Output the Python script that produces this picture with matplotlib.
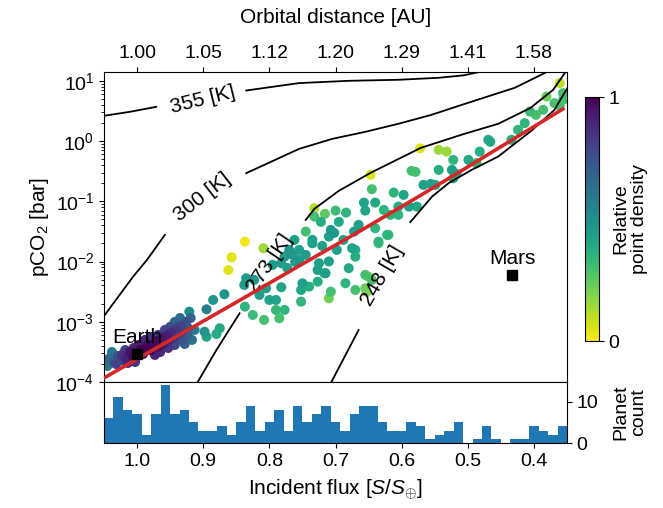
import numpy as np
import matplotlib
matplotlib.use("Agg")
import matplotlib.pyplot as plt

plt.rcParams['font.family'] = ['Liberation Sans', 'DejaVu Sans']
plt.rcParams['mathtext.fontset'] = 'custom'
plt.rcParams['mathtext.rm'] = 'Liberation Sans'
plt.rcParams['mathtext.it'] = 'Liberation Sans:italic'
plt.rcParams['mathtext.bf'] = 'Liberation Sans:bold'

# ---------------- data ----------------
flux_ticks = [1.0, 0.9, 0.8, 0.7, 0.6, 0.5, 0.4]
flux_tick_labels = ['1.0', '0.9', '0.8', '0.7', '0.6', '0.5', '0.4']
orbital_tick_labels = ['1.00', '1.05', '1.12', '1.20', '1.29', '1.41', '1.58']

planet_flux = [
    1.047, 1.041, 1.036, 1.045, 1.029, 1.032, 1.023, 1.017, 1.011, 1.006,
    1.014, 0.995, 0.991, 0.986, 0.980, 0.983, 0.976, 0.971, 0.968, 0.964,
    0.961, 0.956, 0.953, 0.949, 0.946, 0.941, 0.938, 0.934, 0.931, 0.926,
    0.923, 0.919, 0.968, 0.958, 0.950, 0.943, 0.935, 0.988, 0.980, 0.998,
    1.005, 1.018, 0.965, 0.973, 0.953, 0.943, 0.932, 0.923, 0.913, 0.917,
    0.928, 1.026, 1.003, 1.038,
    0.895, 0.921, 0.898, 0.895, 0.880, 0.875, 0.885, 0.868, 0.837, 0.857,
    0.862, 0.809, 0.835, 0.823, 0.777, 0.765, 0.755, 0.782, 0.795, 0.815,
    0.805, 0.800, 0.790, 0.782, 0.752, 0.752, 0.740, 0.727, 0.837, 0.825,
    0.808, 0.785, 0.790, 0.777, 0.707, 0.710, 0.715, 0.725, 0.735, 0.720,
    0.710, 0.675, 0.670, 0.680, 0.655, 0.645, 0.685, 0.670, 0.655, 0.620,
    0.635, 0.750, 0.745, 0.727, 0.717,
    0.647, 0.645, 0.612, 0.657, 0.640, 0.655, 0.732, 0.732, 0.716, 0.700,
    0.684, 0.745, 0.707, 0.702, 0.735, 0.665, 0.672, 0.640, 0.622, 0.605,
    0.589, 0.577, 0.605, 0.635, 0.670,
    0.572, 0.544, 0.532, 0.522, 0.524, 0.517, 0.522, 0.585, 0.579, 0.567,
    0.556, 0.549,
    0.487, 0.482, 0.469, 0.466, 0.434, 0.414, 0.406, 0.397, 0.381, 0.369,
    0.361, 0.361, 0.356, 0.356,
    0.770, 0.761, 0.773, 0.838, 0.710, 0.650, 0.653,
    0.722, 0.695, 0.688, 0.698, 0.762, 0.755, 0.617, 0.627, 0.597, 0.544,
    0.499, 0.424, 0.386,
]
planet_log10_pco2 = [
    -3.635, -3.601, -3.668, -3.734, -3.568, -3.701, -3.551, -3.618, -3.502, -3.585,
    -3.684, -3.469, -3.535, -3.435, -3.469, -3.369, -3.386, -3.319, -3.419, -3.286,
    -3.369, -3.236, -3.319, -3.186, -3.269, -3.136, -3.219, -3.070, -3.153, -3.003,
    -3.103, -2.937, -3.219, -3.136, -3.086, -3.003, -2.937, -3.302, -3.252, -3.386,
    -3.435, -3.469, -3.502, -3.551, -3.435, -3.386, -3.302, -3.236, -3.136, -3.302,
    -3.369, -3.651, -3.668, -3.502,
    -2.793, -2.832, -3.165, -3.248, -3.203, -3.108, -2.638, -2.543, -1.670, -1.929,
    -2.140, -1.779, -2.278, -2.306, -1.919, -1.890, -1.973, -2.028, -2.056, -2.555,
    -2.444, -2.638, -2.638, -2.427, -2.472, -2.666, -2.417, -2.334, -2.749, -2.887,
    -2.970, -2.942, -2.804, -2.804, -2.500, -2.610, -2.194, -2.028, -1.697, -1.741,
    -1.587, -1.779, -1.919, -2.111, -2.222, -2.306, -2.361, -2.472, -2.444, -1.558,
    -1.697, -2.361, -1.890, -2.140, -2.194,
    -0.561, -0.799, -0.855, -1.022, -1.022, -1.155, -1.115, -1.254, -1.209, -1.155,
    -1.188, -1.503, -1.475, -1.525, -1.641, -1.392, -1.503, -1.447, -1.558, -1.088,
    -1.088, -1.088, -1.226, -1.670, -1.807,
    -0.121, -0.146, -0.175, -0.314, -0.479, -0.545, -0.617, -0.495, -0.512, -0.728,
    -0.711, -0.728,
    -0.367, -0.175, 0.020, -0.013, 0.020, 0.297, 0.490, 0.435, 0.739, 0.629,
    0.585, 0.962, 0.796, 0.685,
    -1.807, -2.007, -2.106, -2.389, -1.998, -2.256, -2.505,
    -1.342, -1.342, -1.641, -1.807, -1.641, -1.807, -1.226, -1.143, -0.894, -0.479,
    -0.313, 0.186, 0.518,
]
planet_density = [
    0.60, 0.65, 0.70, 0.60, 0.75, 0.80, 0.85, 0.90, 0.95, 0.97,
    0.88, 1.00, 0.98, 0.99, 1.00, 0.95, 0.97, 0.98, 0.96, 0.95,
    0.93, 0.92, 0.90, 0.88, 0.86, 0.84, 0.82, 0.80, 0.80, 0.75,
    0.72, 0.68, 0.85, 0.80, 0.78, 0.70, 0.65, 0.90, 0.85, 0.92,
    0.90, 0.80, 0.88, 0.90, 0.85, 0.80, 0.75, 0.70, 0.60, 0.62,
    0.68, 0.78, 0.85, 0.60,
    0.58, 0.52, 0.48, 0.42, 0.38, 0.40, 0.48, 0.48, 0.02, 0.05,
    0.05, 0.15, 0.45, 0.47, 0.47, 0.47, 0.45, 0.44, 0.45, 0.44,
    0.44, 0.42, 0.42, 0.42, 0.40, 0.35, 0.38, 0.38, 0.35, 0.32,
    0.30, 0.30, 0.33, 0.35, 0.30, 0.22, 0.44, 0.44, 0.44, 0.44,
    0.44, 0.42, 0.38, 0.40, 0.30, 0.28, 0.35, 0.30, 0.22, 0.32,
    0.30, 0.44, 0.44, 0.44, 0.38,
    0.05, 0.30, 0.35, 0.42, 0.40, 0.42, 0.12, 0.30, 0.25, 0.32,
    0.35, 0.30, 0.47, 0.47, 0.44, 0.44, 0.44, 0.35, 0.35, 0.38,
    0.44, 0.40, 0.35, 0.35, 0.38,
    0.05, 0.15, 0.15, 0.35, 0.44, 0.44, 0.38, 0.30, 0.30, 0.44,
    0.44, 0.40,
    0.35, 0.38, 0.40, 0.40, 0.38, 0.35, 0.32, 0.30, 0.22, 0.30,
    0.30, 0.10, 0.30, 0.30,
    0.47, 0.47, 0.44, 0.44, 0.44, 0.20, 0.18,
    0.38, 0.40, 0.42, 0.44, 0.44, 0.44, 0.35, 0.35, 0.42, 0.38,
    0.40, 0.35, 0.30,
]

# histogram of planets per flux bin (49 bins from 1.05 down to 0.35)
hist_counts = [6, 11, 8, 7, 2, 7, 14, 7, 8, 5,
               3, 3, 4, 2, 5, 9, 3, 5, 8, 3,
               9, 5, 7, 9, 5, 3, 7, 9, 9, 5,
               3, 3, 5, 4, 1, 2, 3, 5, 0, 1,
               4, 1, 0, 1, 1, 4, 3, 2, 4]

earth_flux, earth_pco2 = 1.0, 2.9e-4
mars_flux, mars_pco2 = 0.433, 6.0e-3

fit_flux = [1.051, 0.855, 0.755, 0.660, 0.574, 0.505, 0.354]
fit_log10_pco2 = [-3.939, -2.708, -2.073, -1.475, -0.919, -0.462, 0.547]

# temperature contours: list of segments (flux, log10 pCO2) per level
contour_355_segments = [
    ([1.060, 1.050, 1.011, 0.971], [0.405, 0.419, 0.485, 0.568]),
    ([0.835, 0.755, 0.680, 0.605, 0.544, 0.506, 0.481, 0.470],
     [0.839, 0.962, 1.000, 1.017, 1.050, 1.091, 1.150, 1.190]),
]
contour_300_segments = [
    ([1.060, 1.051, 1.006, 0.985, 0.958], [-3.05, -2.920, -2.251, -1.973, -1.558]),
    ([0.835, 0.755, 0.705, 0.655, 0.605, 0.555, 0.495, 0.429, 0.380, 0.370],
     [-0.533, -0.130, 0.036, 0.153, 0.286, 0.435, 0.651, 0.884, 1.150, 1.220]),
]
contour_273_segments = [
    ([0.915, 0.908, 0.880, 0.845], [-4.10, -3.995, -3.468, -2.859]),
    ([0.745, 0.732, 0.695, 0.647, 0.571, 0.505, 0.454, 0.405, 0.371, 0.353, 0.345],
     [-1.309, -1.126, -0.827, -0.528, -0.113, 0.120, 0.286, 0.551, 0.850, 1.133, 1.30]),
]
contour_248_segments = [
    ([0.712, 0.706, 0.665], [-4.10, -3.995, -3.136]),
    ([0.587, 0.554, 0.529, 0.494, 0.454, 0.404, 0.369, 0.354, 0.345],
     [-1.347, -0.922, -0.699, -0.478, -0.257, 0.169, 0.518, 0.796, 0.95]),
]
contour_labels = [
    ('355 [K]', 0.901, 0.684, 14),
    ('300 [K]', 0.901, -0.927, 38),
    ('273 [K]', 0.800, -2.023, 56),
    ('248 [K]', 0.629, -2.239, 60),
]

# ---------------- figure ----------------
W, H = 663, 508
fig = plt.figure(figsize=(W / 100, H / 100), dpi=100)

ax = fig.add_axes([104 / W, (H - 382) / H, 463 / W, 310 / H])
axh = fig.add_axes([104 / W, (H - 443) / H, 463 / W, 61 / H])
cax = fig.add_axes([585 / W, (H - 341) / H, 14 / W, 244 / H])

FS_TICK = 14
FS_LAB = 15

# scatter (densest on top)
order = np.argsort(planet_density)
px = np.array(planet_flux)[order]
py = 10 ** np.array(planet_log10_pco2)[order]
pdens = np.array(planet_density)[order]
sc = ax.scatter(px, py, c=pdens, cmap='viridis_r', vmin=0, vmax=1,
                s=52, edgecolors='none', zorder=2)

for segs in (contour_355_segments, contour_300_segments,
             contour_273_segments, contour_248_segments):
    for fx, fy in segs:
        ax.plot(fx, 10 ** np.array(fy), color='black', lw=1.3, zorder=3)
for txt, fx, fy, rot in contour_labels:
    ax.text(fx, 10 ** fy, txt, rotation=rot, ha='center', va='center',
            rotation_mode='anchor', fontsize=FS_LAB, zorder=4)

ax.plot(fit_flux, 10 ** np.array(fit_log10_pco2), color='#d62728', lw=2.6,
        zorder=5, solid_capstyle='butt')

ax.plot([earth_flux], [earth_pco2], 's', color='black', ms=6.5, zorder=6)
ax.text(earth_flux, earth_pco2 * 1.33, 'Earth', ha='center', va='bottom',
        fontsize=FS_LAB, zorder=6)
ax.plot([mars_flux], [mars_pco2], 's', color='black', ms=6.5, zorder=6)
ax.text(mars_flux, mars_pco2 * 1.3, 'Mars', ha='center', va='bottom',
        fontsize=FS_LAB, zorder=6)

ax.set_yscale('log')
ax.set_ylim(1e-4, 14)
ax.set_xlim(1.05, 0.35)
ax.set_xticks(flux_ticks)
ax.set_xticklabels(orbital_tick_labels)
ax.tick_params(axis='x', top=True, bottom=False, labeltop=True,
               labelbottom=False, labelsize=FS_TICK)
ax.tick_params(axis='y', labelsize=FS_TICK)
ax.xaxis.set_label_position('top')
ax.set_xlabel('Orbital distance [AU]', fontsize=FS_LAB, labelpad=16)
ax.set_ylabel('pCO$_2$ [bar]', fontsize=FS_LAB, labelpad=3)

# histogram
edges = np.linspace(1.05, 0.35, len(hist_counts) + 1)
centers = (edges[:-1] + edges[1:]) / 2
axh.bar(centers, hist_counts, width=abs(edges[1] - edges[0]),
        color='#1f77b4', linewidth=0)
axh.set_xlim(1.05, 0.35)
axh.set_ylim(0, 14.7)
axh.set_yticks([0, 10])
axh.yaxis.tick_right()
axh.tick_params(axis='both', labelsize=FS_TICK)
axh.set_xticks(flux_ticks)
axh.set_xticklabels(flux_tick_labels)
axh.set_xlabel('Incident flux [$S/S_{\\oplus}$]', fontsize=FS_LAB, labelpad=6)
axh.yaxis.set_label_position('right')
axh.set_ylabel('Planet\ncount', fontsize=14, linespacing=1.1)
axh.yaxis.set_label_coords(1.097, 0.5)

cb = fig.colorbar(sc, cax=cax, ticks=[0, 1])
cb.ax.set_yticklabels(['0', '1'])
cb.ax.tick_params(labelsize=FS_TICK)
cb.set_label('Relative\npoint density', fontsize=14, linespacing=1.1)
cb.ax.yaxis.set_label_coords(1.98, 0.5)
cb.outline.set_linewidth(0.8)

fig.savefig('out.png', dpi=100)
